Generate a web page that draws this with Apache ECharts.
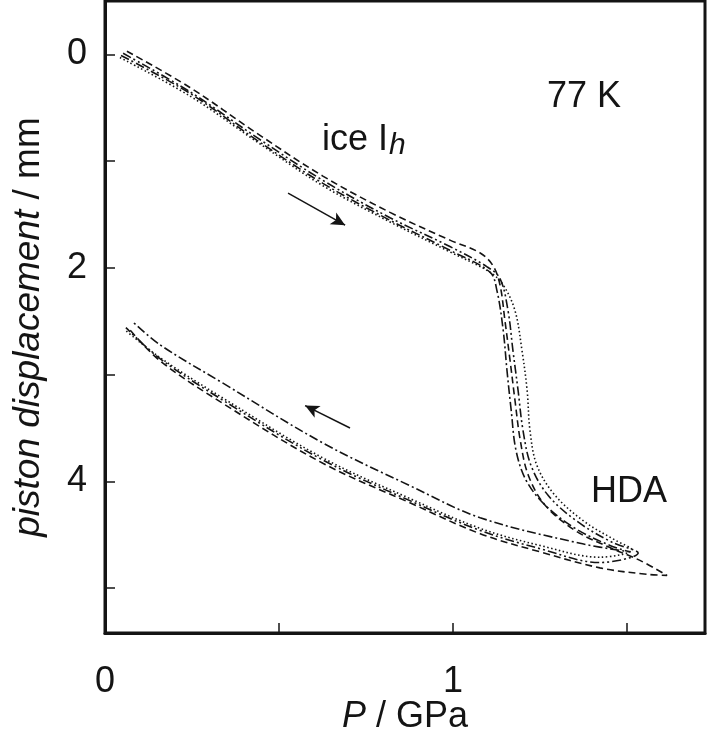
<!DOCTYPE html>
<html>
<head>
<meta charset="utf-8">
<script src="https://cdn.jsdelivr.net/npm/echarts@6/dist/echarts.min.js"></script>
<style>html,body{margin:0;padding:0;background:#fff}#c{width:708px;height:735px}</style>
</head>
<body>
<div id="c"></div>
<script>
// ---- data (P in GPa, displacement in mm) ----
// run 1 : dashed
const run1P = [0.063,0.244,0.437,0.626,0.819,0.991,1.078,1.115,1.135,1.149,1.164,1.178,1.193,1.216,1.264,1.351,1.451,1.537,1.615,
               1.557,1.422,1.250,1.078,0.876,0.626,0.339,0.158,0.066];
const run1D = [-0.03,0.31,0.74,1.14,1.48,1.74,1.86,1.98,2.16,2.49,2.87,3.24,3.61,3.94,4.22,4.46,4.62,4.74,4.88,
               4.87,4.81,4.66,4.49,4.20,3.83,3.27,2.87,2.56];
// run 2 : dash-dot
const run2P = [0.046,0.244,0.437,0.626,0.819,0.991,1.106,1.126,1.144,1.155,1.167,1.181,1.210,1.264,1.351,1.451,1.509,
               1.365,1.078,0.876,0.626,0.339,0.158,0.078];
const run2D = [0.01,0.365,0.805,1.208,1.554,1.835,2.04,2.21,2.58,2.96,3.33,3.71,3.99,4.22,4.44,4.60,4.66,
               4.58,4.34,4.04,3.64,3.08,2.72,2.50];
// run 3 : dotted
const run3P = [0.043,0.244,0.437,0.626,0.819,0.991,1.106,1.144,1.178,1.198,1.213,1.221,1.241,1.293,1.379,1.466,1.514,
               1.422,1.250,1.078,0.876,0.626,0.339,0.158,0.057];
const run3D = [0.03,0.39,0.82,1.23,1.57,1.85,2.04,2.16,2.40,2.77,3.15,3.52,3.85,4.13,4.38,4.55,4.64,
               4.71,4.60,4.44,4.16,3.78,3.22,2.84,2.58];
// run 4 : dash-dot-dot
const run4P = [0.052,0.244,0.437,0.626,0.819,0.991,1.098,1.135,1.158,1.172,1.187,1.201,1.224,1.273,1.359,1.457,1.532,
               1.422,1.250,1.078,0.876,0.626,0.339,0.158,0.060];
const run4D = [-0.01,0.35,0.78,1.18,1.53,1.80,1.99,2.10,2.40,2.77,3.15,3.52,3.85,4.13,4.38,4.57,4.67,
               4.76,4.63,4.46,4.18,3.80,3.24,2.85,2.56];

// arrows [P0, D0, P1, D1]
const arrowCompress = [0.526, 1.30, 0.690, 1.60];
const arrowDecompress = [0.704, 3.50, 0.575, 3.29];

// axis ticks and labels
const xTicks = [0.5, 1, 1.5];
const xLabels = [0, 1];
const yTicks = [0, 1, 2, 3, 4, 5];
const yLabels = [0, 2, 4];

const FONT = 'Liberation Sans, Arial, Helvetica, sans-serif';
const INK = '#141414';
const FS = 36;

function pairs(px, py) { return px.map((v, i) => [v, py[i]]); }
function run(name, px, py, dash) {
  return {
    name, type: 'line', data: pairs(px, py), showSymbol: false, symbol: 'none',
    smooth: 0.35, lineStyle: { color: INK, width: 1.6, type: dash }, z: 3, silent: true
  };
}

const chart = echarts.init(document.getElementById('c'), null, { renderer: 'canvas' });
const series = [
  run('run1', run1P, run1D, [7, 4]),
  run('run2', run2P, run2D, [9, 3, 2, 3]),
  run('run3', run3P, run3D, [1.5, 2.5]),
  run('run4', run4P, run4D, [9, 3, 2, 3, 2, 3]),
  {
    type: 'line', data: [], silent: true,
    markLine: {
      silent: true, symbol: ['none', 'arrow'], symbolSize: [10, 14],
      lineStyle: { color: INK, width: 1.5, type: 'solid' }, label: { show: false },
      data: [
        [{ coord: [arrowCompress[0], arrowCompress[1]] }, { coord: [arrowCompress[2], arrowCompress[3]] }],
        [{ coord: [arrowDecompress[0], arrowDecompress[1]] }, { coord: [arrowDecompress[2], arrowDecompress[3]] }]
      ]
    }
  }
];

chart.setOption({
  animation: false,
  backgroundColor: '#fff',
  grid: { left: 105, right: 3, top: 1, bottom: 102, outerBoundsMode: 'none', containLabel: false,
          show: true, borderColor: INK, borderWidth: 3, backgroundColor: 'transparent' },
  xAxis: {
    type: 'value', min: 0, max: 1.724,
    axisLine: { show: true, onZero: false, lineStyle: { color: INK, width: 3 } },
    axisTick: { show: true, inside: true, length: 10, lineStyle: { color: INK, width: 1.5 }, customValues: xTicks },
    axisLabel: { customValues: xLabels, fontSize: FS, color: INK, fontFamily: FONT, margin: 31 },
    splitLine: { show: false },
    name: '{i|P} / GPa', nameLocation: 'middle', nameGap: 66, nameMoveOverlap: false,
    nameTextStyle: { fontSize: FS, color: INK, fontFamily: FONT, rich: { i: { fontStyle: 'italic', fontSize: FS, fontFamily: FONT, color: INK } } }
  },
  yAxis: {
    type: 'value', inverse: true, min: -0.5, max: 5.42,
    axisLine: { show: true, onZero: false, lineStyle: { color: INK, width: 3 } },
    axisTick: { show: true, inside: true, length: 10, lineStyle: { color: INK, width: 1.5 }, customValues: yTicks },
    axisLabel: { customValues: yLabels, fontSize: FS, color: INK, fontFamily: FONT, margin: 18 },
    splitLine: { show: false },
    name: '{i|piston displacement} / mm', nameLocation: 'middle', nameGap: 58, nameRotate: 90, nameMoveOverlap: false,
    nameTextStyle: { fontSize: 37, color: INK, fontFamily: FONT, padding: [0, 20, 0, 0],
                     rich: { i: { fontStyle: 'italic', fontSize: 37, fontFamily: FONT, color: INK } } }
  },
  graphic: [
    { type: 'text', left: 547, top: 79, style: { text: '77 K', font: FS + 'px ' + FONT, fill: INK } },
    { type: 'text', left: 322, top: 122, style: {
        text: '{a|ice I}{b|h}',
        rich: { a: { fontSize: FS, fontFamily: FONT, fill: INK },
                b: { fontSize: 30, fontStyle: 'italic', fontFamily: FONT, fill: INK, padding: [12, 0, 0, 1] } } } },
    { type: 'text', left: 591, top: 474, style: { text: 'HDA', font: FS + 'px ' + FONT, fill: INK } }
  ],
  series
});
</script>
</body>
</html>
